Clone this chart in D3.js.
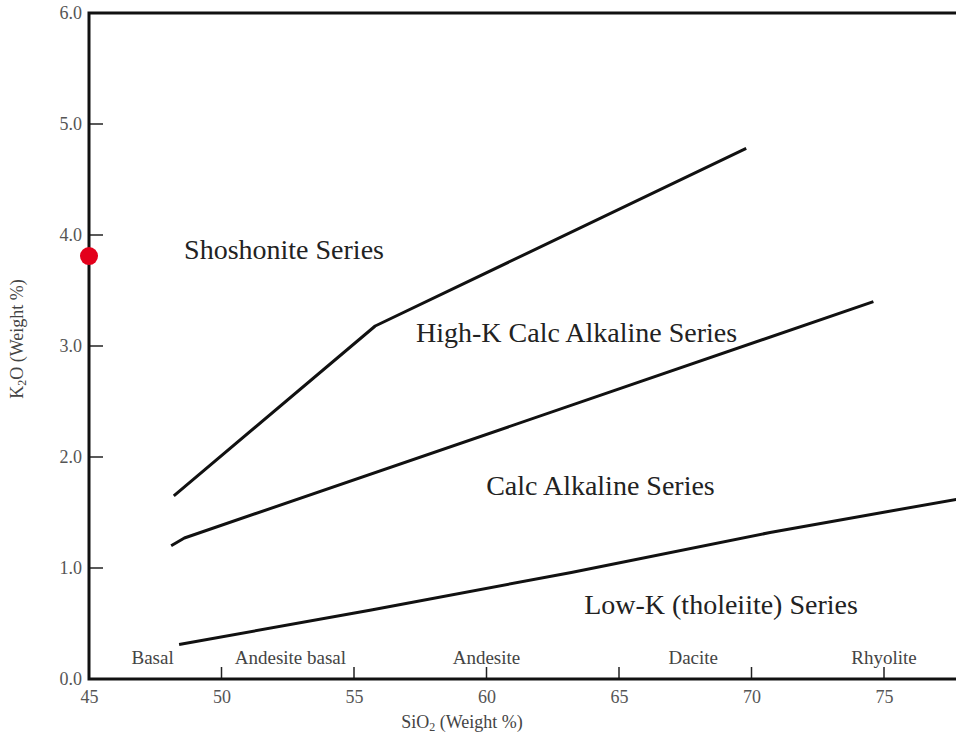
<!DOCTYPE html>
<html><head><meta charset="utf-8">
<script src="https://cdn.jsdelivr.net/npm/d3@7"></script>
<style>body{margin:0;background:#fff}svg{display:block}</style>
</head><body>
<svg id="c" width="956" height="737"></svg>
<script>
// ---- data ----
const xTicks = [45, 50, 55, 60, 65, 70, 75];
const yTicks = [0, 1, 2, 3, 4, 5, 6];
const shoshoniteLine = [[48.2, 1.65], [55.8, 3.18], [69.8, 4.78]];
const highKLine = [[48.1, 1.20], [48.6, 1.27], [74.6, 3.40]];
const lowKLine = [[48.4, 0.31], [55.6, 0.62], [63.2, 0.96], [70.7, 1.32], [78.0, 1.63]];
const seriesNames = ["Shoshonite Series", "High-K Calc Alkaline Series", "Calc Alkaline Series", "Low-K (tholeiite) Series"];
const seriesPos = [[52.36, 3.78], [63.4, 3.04], [64.3, 1.66], [68.85, 0.59]];
const rockNames = ["Basal", "Andesite basal", "Andesite", "Dacite", "Rhyolite"];
const rockPos = [47.4, 52.6, 60.0, 67.8, 75.0];
const samples = [[45.0, 3.81]];

// ---- chart ----
const svg = d3.select("#c");
const serif = "'Liberation Serif','DejaVu Serif',serif";
const x = d3.scaleLinear().domain([45, 80]).range([89, 89 + 35 * 26.5]);
const y = d3.scaleLinear().domain([0, 6]).range([679, 13]);

const line = d3.line().x(d => x(d[0])).y(d => y(d[1]));
const lineG = svg.append("g").attr("fill", "none").attr("stroke", "#111").attr("stroke-width", 3).attr("stroke-linejoin", "round");
[shoshoniteLine, highKLine, lowKLine].forEach(l => lineG.append("path").attr("d", line(l)));

// axes with inward ticks
const xAxis = d3.axisBottom(x).tickValues(xTicks).tickSize(0).tickPadding(11).tickFormat(d3.format("d"));
const gx = svg.append("g").attr("transform", `translate(0,${y(0)})`).call(xAxis);
gx.select(".domain").remove();
gx.selectAll("text").attr("font-family", serif).attr("font-size", 18).attr("fill", "#555");
svg.append("g").selectAll("line").data(xTicks.slice(1)).join("line")
  .attr("x1", d => x(d)).attr("x2", d => x(d)).attr("y1", y(0)).attr("y2", y(0) - 12)
  .attr("stroke", "#222").attr("stroke-width", 1.5);

const yAxis = d3.axisLeft(y).tickValues(yTicks).tickSize(0).tickPadding(7).tickFormat(d3.format(".1f"));
const gy = svg.append("g").attr("transform", `translate(${x(45)},0)`).call(yAxis);
gy.select(".domain").remove();
gy.selectAll("text").attr("font-family", serif).attr("font-size", 18).attr("fill", "#555");
svg.append("g").selectAll("line").data(yTicks.slice(1)).join("line")
  .attr("x1", x(45)).attr("x2", x(45) + 14).attr("y1", d => y(d)).attr("y2", d => y(d))
  .attr("stroke", "#222").attr("stroke-width", 1.5);

// frame
svg.append("rect").attr("x", x(45)).attr("y", y(6)).attr("width", x(80) - x(45)).attr("height", y(0) - y(6))
  .attr("fill", "none").attr("stroke", "#111").attr("stroke-width", 3);

// series labels
svg.append("g").selectAll("text").data(seriesNames).join("text")
  .attr("x", (d, i) => x(seriesPos[i][0])).attr("y", (d, i) => y(seriesPos[i][1]))
  .attr("text-anchor", "middle").attr("font-family", serif).attr("font-size", 28).attr("fill", "#222")
  .text(d => d);

// rock names
svg.append("g").selectAll("text").data(rockNames).join("text")
  .attr("x", (d, i) => x(rockPos[i])).attr("y", y(0) - 15)
  .attr("text-anchor", "middle").attr("font-family", serif).attr("font-size", 19).attr("fill", "#444")
  .text(d => d);

// axis titles
const xt = svg.append("text").attr("x", 462).attr("y", 728).attr("text-anchor", "middle")
  .attr("font-family", serif).attr("font-size", 18).attr("fill", "#444");
xt.append("tspan").text("SiO");
xt.append("tspan").attr("font-size", 12).attr("dy", 3).text("2");
xt.append("tspan").attr("dy", -3).text(" (Weight %)");

const yt = svg.append("text").attr("transform", "translate(23,339) rotate(-90)").attr("text-anchor", "middle")
  .attr("font-family", serif).attr("font-size", 18).attr("fill", "#444");
yt.append("tspan").text("K");
yt.append("tspan").attr("font-size", 12).attr("dy", 3).text("2");
yt.append("tspan").attr("dy", -3).text("O (Weight %)");

// samples
svg.append("g").selectAll("circle").data(samples).join("circle")
  .attr("cx", d => x(d[0])).attr("cy", d => y(d[1])).attr("r", 9).attr("fill", "#e3001b");
</script>
</body></html>
